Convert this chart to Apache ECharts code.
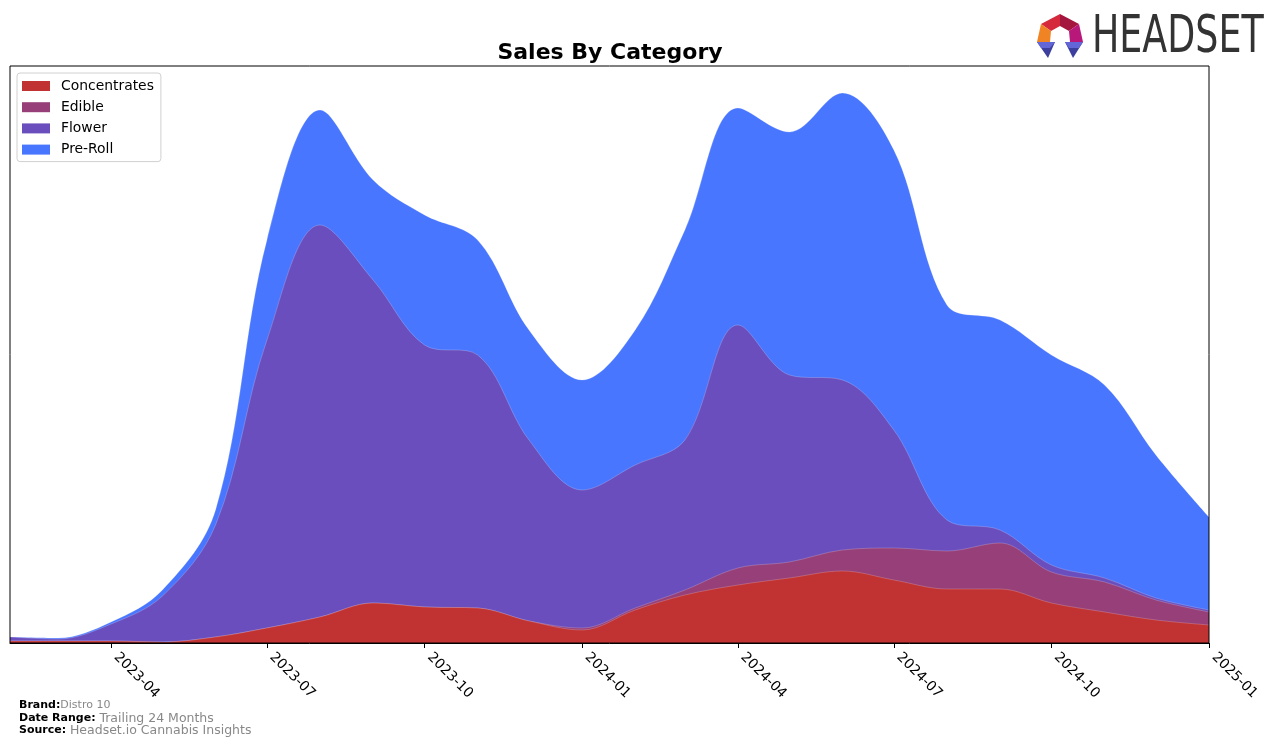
<!DOCTYPE html>
<html>
<head>
<meta charset="utf-8">
<script src="https://cdn.jsdelivr.net/npm/echarts@6/dist/echarts.min.js"></script>
<style>html,body{margin:0;padding:0;background:#fff;}#c{width:1276px;height:745px;}</style>
</head>
<body>
<div id="c"></div>
<script>
const months = ["2023-02","2023-03","2023-04","2023-05","2023-06","2023-07","2023-08","2023-09","2023-10","2023-11","2023-12",
  "2024-01","2024-02","2024-03","2024-04","2024-05","2024-06","2024-07","2024-08","2024-09","2024-10","2024-11","2024-12","2025-01"];
const concentrates = [2,2,2,1,6,15,26,40,36,35,22,13,33,48,58,65,72,63,54,54,40,31,23,18];
const edible =       [0,0,0,0,0,0,0,0,0,0,0,2,2,5,17,16,21,32,38,46,31,30,20,13];
const flower =       [4,2,17,46,112,288,392,323,262,253,181,138,143,150,243,187,170,118,31,13,7,4,2,2];
const preroll =      [0,1,2,6,15,100,115,100,130,115,110,110,135,210,217,243,287,280,215,210,210,193,143,93];
const tickLabels = ["2023-04","2023-07","2023-10","2024-01","2024-04","2024-07","2024-10","2025-01"];

const ts = s => Date.UTC(+s.slice(0,4), +s.slice(5,7)-1, 1);
const tickVals = tickLabels.map(ts);
const font = "DejaVu Sans";

// stack the series (bottom to top)
const layers = [
  {name:'Concentrates', vals:concentrates, color:'#C13232'},
  {name:'Edible', vals:edible, color:'#963F78'},
  {name:'Flower', vals:flower, color:'#6A4EBD'},
  {name:'Pre-Roll', vals:preroll, color:'#4876FF'}
];
let run = months.map(()=>0);
layers.forEach(l => { run = run.map((r,i)=>r + l.vals[i]); l.cum = run.slice(); });

const series = layers.slice().reverse().map((l, k) => ({
  name:l.name, type:'line', data: l.cum.map((v,i)=>[ts(months[i]), v]), smooth:0.35, symbol:'none', z: 2 + k,
  lineStyle:{width:0.6, color:'rgba(255,255,255,0.35)'}, areaStyle:{color:l.color, opacity:1, origin:'start'},
  itemStyle:{color:l.color}, emphasis:{disabled:true}
}));

const chart = echarts.init(document.getElementById('c'), null, {renderer:'canvas'});
chart.setOption({
  animation:false,
  title:{text:'Sales By Category', left:605, textAlign:'center', top:37,
    textStyle:{fontFamily:font, fontWeight:'bold', fontSize:22, color:'#000'}},
  grid:{left:10, right:67, top:66, bottom:102, show:true, borderColor:'#000', borderWidth:1, backgroundColor:'transparent', z:10},
  legend:{orient:'vertical', left:17, top:73, icon:'rect', itemWidth:28, itemHeight:10, itemGap:7.2,
    padding:[6,7,5,5], backgroundColor:'#fff', borderColor:'#d0d0d0', borderWidth:1, borderRadius:3,
    textStyle:{fontFamily:font, fontSize:13.9, color:'#000', padding:[0,0,0,6]},
    data:['Concentrates','Edible','Flower','Pre-Roll']},
  xAxis:{type:'value', min:ts("2023-02"), max:ts("2025-01"), z:10,
    axisLine:{show:true, onZero:false, lineStyle:{color:'#000', width:1}},
    axisTick:{show:true, length:5, lineStyle:{color:'#000'}, customValues:tickVals},
    axisLabel:{rotate:-45, fontFamily:font, fontSize:13.9, color:'#000', margin:7, padding:[0,0,0,7], customValues:tickVals,
      formatter: v => { const d=new Date(v); return d.getUTCFullYear()+'-'+String(d.getUTCMonth()+1).padStart(2,'0'); }},
    splitLine:{show:false}},
  yAxis:{type:'value', min:0, max:577, show:false, splitLine:{show:false}},
  series: series,
  graphic:[
    {type:'text', left:19, top:700, style:{text:'{b|Brand:}{g|Distro 10}', rich:{b:{fontFamily:font,fontWeight:'bold',fontSize:11,fill:'#000'},g:{fontFamily:font,fontSize:11,fill:'#888'}}}},
    {type:'text', left:19, top:712, style:{text:'{b|Date Range: }{g|Trailing 24 Months}', rich:{b:{fontFamily:font,fontWeight:'bold',fontSize:11,fill:'#000'},g:{fontFamily:font,fontSize:12.5,fill:'#888'}}}},
    {type:'text', left:19, top:724, style:{text:'{b|Source: }{g|Headset.io Cannabis Insights}', rich:{b:{fontFamily:font,fontWeight:'bold',fontSize:11,fill:'#000'},g:{fontFamily:font,fontSize:12.5,fill:'#888'}}}},
    {type:'polygon', shape:{points:[[1041,24],[1060,14],[1060,26],[1051,31]]}, style:{fill:'#D42A3C'}},
    {type:'polygon', shape:{points:[[1060,14],[1079,24],[1069,31],[1060,26]]}, style:{fill:'#A5163E'}},
    {type:'polygon', shape:{points:[[1079,24],[1083,42],[1070,42],[1069,31]]}, style:{fill:'#B8187A'}},
    {type:'polygon', shape:{points:[[1041,24],[1051,31],[1050,42],[1037,42]]}, style:{fill:'#F08424'}},
    {type:'polygon', shape:{points:[[1037,42],[1055,42],[1048,58]]}, style:{fill:'#3D3F9E'}},
    {type:'polygon', shape:{points:[[1065,42],[1083,42],[1073,58]]}, style:{fill:'#3D3F9E'}},
    {type:'polygon', shape:{points:[[1037,42],[1055,42],[1050,48],[1041,48]]}, style:{fill:'#6266D6'}},
    {type:'polygon', shape:{points:[[1065,42],[1083,42],[1079,48],[1069,48]]}, style:{fill:'#6266D6'}},
    {type:'text', x:1092, y:12, scaleX:0.70, style:{text:'HEADSET', font:'400 52px "DejaVu Sans", sans-serif', fill:'#333'}}
  ]
});
</script>
</body>
</html>
